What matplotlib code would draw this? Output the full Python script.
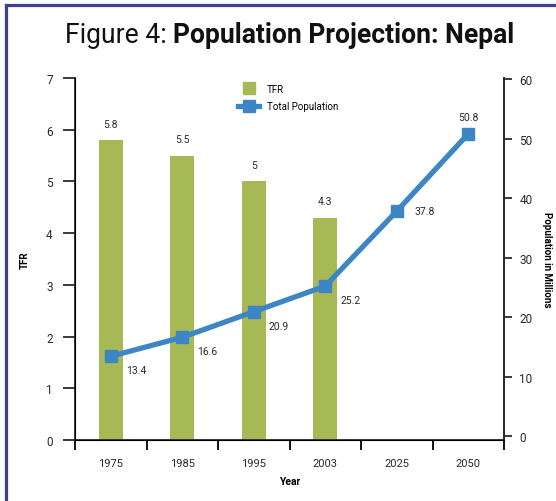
import matplotlib
matplotlib.use("Agg")
import matplotlib.pyplot as plt
from matplotlib.lines import Line2D

plt.rcParams['font.family'] = ['Roboto', 'DejaVu Sans']

# data
years = ["1975", "1985", "1995", "2003", "2025", "2050"]
tfr_years = ["1975", "1985", "1995", "2003"]
tfr = [5.8, 5.5, 5.0, 4.3]
tfr_labels = ["5.8", "5.5", "5", "4.3"]
population = [13.4, 16.6, 20.9, 25.2, 37.8, 50.8]
pop_labels = ["13.4", "16.6", "20.9", "25.2", "37.8", "50.8"]

green = "#a6b955"
blue = "#3d86c6"
navy = "#3c3f94"
ink = "#2a2a2a"

fig = plt.figure(figsize=(5.56, 5.02), dpi=100)
ax = fig.add_axes([0.1349, 0.1215, 0.7716, 0.7211])

x = list(range(len(years)))
ax.bar(range(len(tfr)), tfr, width=0.34, color=green, zorder=2)
for i, (v, s) in enumerate(zip(tfr, tfr_labels)):
    ax.text(i, v + 0.22, s, ha="center", va="bottom", fontsize=7.5, color=ink)

ax.set_xlim(-0.5, len(years) - 0.5)
ax.set_ylim(0, 7)
ax.set_yticks(range(0, 8))
ax.tick_params(axis="y", direction="out", length=9, width=1.3, pad=7,
               labelsize=8.5, colors=ink)

# x ticks at category boundaries, labels in the middle
ax.set_xticks([i - 0.5 for i in range(len(years) + 1)])
ax.set_xticklabels([])
ax.set_xticks(x, minor=True)
ax.set_xticklabels(years, minor=True)
ax.tick_params(axis="x", which="major", direction="out", length=7, width=1.3)
ax.tick_params(axis="x", which="minor", length=0, pad=13, labelsize=8, colors=ink)

ax.spines["top"].set_visible(False)
for s in ("left", "bottom", "right"):
    ax.spines[s].set_linewidth(1.3)
    ax.spines[s].set_color(ink)

ax.set_ylabel("TFR", fontsize=7, fontweight="bold", labelpad=12)
ax.set_xlabel("Year", fontsize=7.5, fontweight="bold", labelpad=6)

ax2 = ax.twinx()
ax2.set_ylim(-0.67, 60.18)
ax2.set_yticks(range(0, 61, 10))
ax2.tick_params(axis="y", direction="out", length=6, width=1.3, pad=5,
                labelsize=8.5, colors=ink)
ax2.spines["top"].set_visible(False)
ax2.spines["right"].set_linewidth(1.3)
ax2.spines["right"].set_color(ink)
ax2.plot(x, population, color=blue, linewidth=3.8, marker="s", markersize=8,
         zorder=3)
offsets = [(11, -10), (11, -10), (11, -10), (11, -10), (13, 0), (0, 12)]
for i, (v, s, off) in enumerate(zip(population, pop_labels, offsets)):
    ax2.annotate(s, (i, v), xytext=off, textcoords="offset points",
                 ha="left" if off[0] else "center", va="center",
                 fontsize=7.5, color=ink)
ax2.set_ylabel("Population in Millions", fontsize=7, fontweight="bold",
               rotation=270, labelpad=14)

handles = [
    Line2D([], [], color=green, marker="s", linestyle="none", markersize=8),
    Line2D([], [], color=blue, marker="s", linewidth=3.8, markersize=8),
]
fig.legend(handles, ["TFR", "Total Population"], loc="upper left",
           bbox_to_anchor=(0.412, 0.849), frameon=False, fontsize=7,
           handlelength=2.2, labelspacing=0.8, handletextpad=0.8)

# title: regular part followed by bold part, fitted to the reference width
t1 = fig.text(0, 0.93, "Figure 4: ", ha="left", va="center", fontsize=16,
              color="#111111")
t2 = fig.text(0, 0.93, "Population Projection: Nepal", ha="left", va="center",
              fontsize=16, fontweight="bold", color="#111111")
r = fig.canvas.get_renderer()
w1 = t1.get_window_extent(r).width
w2 = t2.get_window_extent(r).width
scale = 451 / (w1 + w2)
t1.set_fontsize(16 * scale)
t2.set_fontsize(16 * scale)
w1 *= scale
start = 65
t1.set_x(start / 556)
t2.set_x((start + w1) / 556)

# frame lines on the left and top edges
fig.add_artist(Line2D([6 / 556, 6 / 556], [0, 1 - 6 / 502], color=navy,
                      linewidth=2.3, transform=fig.transFigure))
fig.add_artist(Line2D([6 / 556, 1], [1 - 6 / 502, 1 - 6 / 502], color=navy,
                      linewidth=2.3, transform=fig.transFigure))

fig.savefig("out.png", dpi=100)
